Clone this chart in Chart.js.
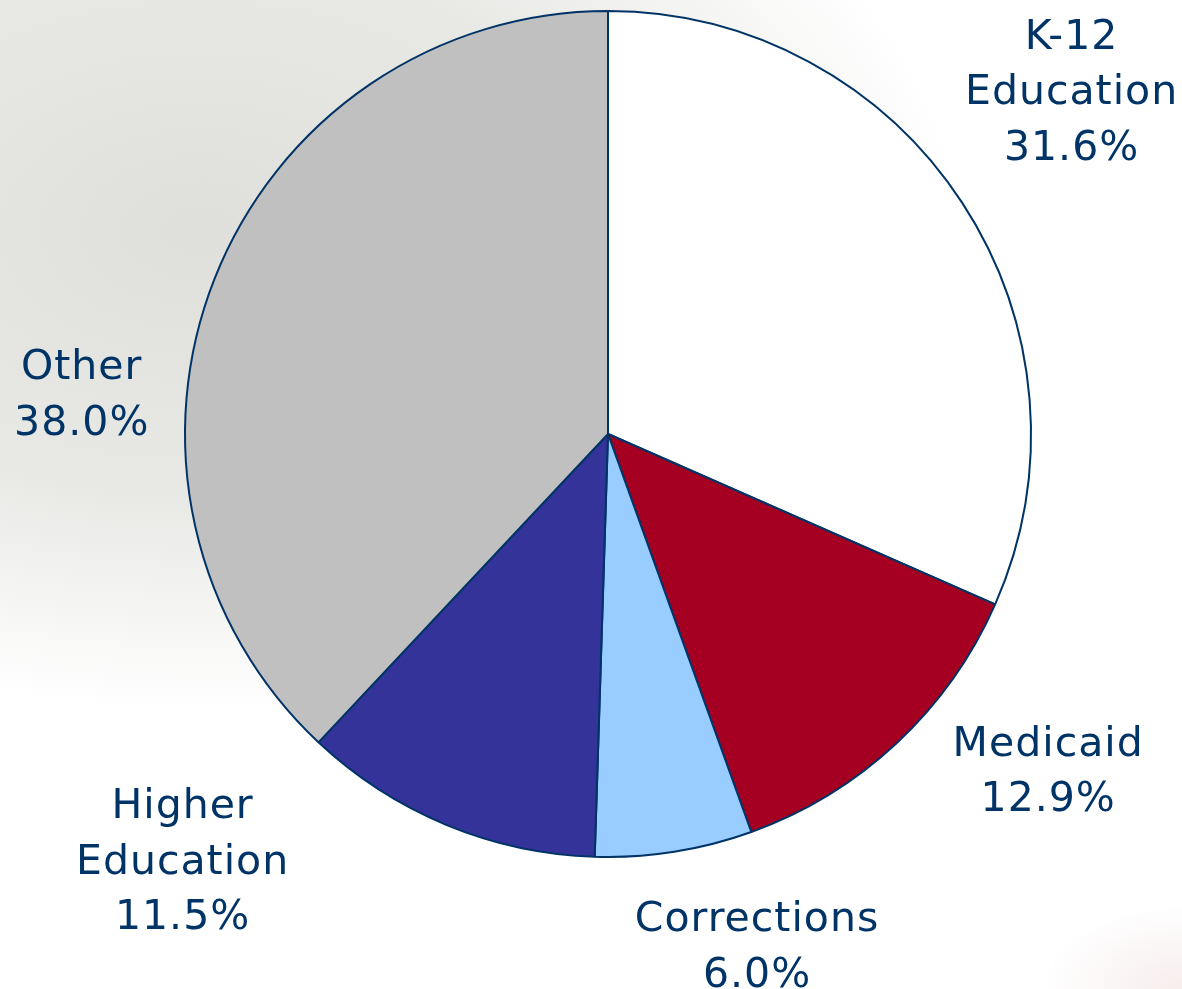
<!DOCTYPE html>
<html>
<head>
<meta charset="utf-8">
<script src="https://cdn.jsdelivr.net/npm/chart.js@4/dist/chart.umd.min.js"></script>
<style>
  html, body { margin: 0; padding: 0; }
  body {
    width: 1182px; height: 989px; overflow: hidden;
    background:
      radial-gradient(ellipse 200px 120px at 1182px 989px, rgba(200,130,130,0.15), rgba(255,255,255,0) 70%),
      radial-gradient(ellipse 760px 480px at 200px 230px, #dfdfdc 0%, #e8e8e5 55%, rgba(255,255,255,0) 100%),
      #ffffff;
  }
  #wrap { position: relative; width: 1182px; height: 989px; }
</style>
</head>
<body>
<div id="wrap"><canvas id="budgetPie" width="1182" height="989"></canvas></div>
<script>
// slice data, clockwise from 12 o'clock
const categories = ['K-12\nEducation', 'Medicaid', 'Corrections', 'Higher\nEducation', 'Other'];
const shares = [31.6, 12.9, 6.0, 11.5, 38.0];
const sliceColors = ['#FFFFFF', '#A50021', '#99CCFF', '#333399', '#C0C0C0'];

// label nudges from a point on the slice bisector at 1.3 x radius
const labelNudge = [[3, -40], [65, -63], [63, -29], [-215, -79], [-15, 165]];

const sliceLabels = {
  id: 'sliceLabels',
  afterDatasetsDraw(chart) {
    const ctx = chart.ctx;
    const arcs = chart.getDatasetMeta(0).data;
    ctx.save();
    ctx.fillStyle = '#003366';
    ctx.font = '41px "DejaVu Sans", Verdana, sans-serif';
    ctx.letterSpacing = '1px';
    ctx.textAlign = 'center';
    ctx.textBaseline = 'middle';
    arcs.forEach((arc, i) => {
      const mid = (arc.startAngle + arc.endAngle) / 2;
      const x = arc.x + Math.cos(mid) * arc.outerRadius * 1.3 + labelNudge[i][0];
      const y = arc.y + Math.sin(mid) * arc.outerRadius * 1.3 + labelNudge[i][1];
      const lines = categories[i].split('\n').concat(shares[i].toFixed(1) + '%');
      const lh = 55.5;
      lines.forEach((line, j) => {
        ctx.fillText(line, x, y + (j - (lines.length - 1) / 2) * lh);
      });
    });
    ctx.restore();
  }
};

new Chart(document.getElementById('budgetPie'), {
  type: 'pie',
  data: {
    labels: categories.map(c => c.replace('\n', ' ')),
    datasets: [{
      data: shares,
      backgroundColor: sliceColors,
      borderColor: '#003366',
      borderWidth: 2,
      hoverOffset: 0
    }]
  },
  options: {
    responsive: false,
    animation: false,
    layout: { padding: { left: 184, right: 150, top: 10, bottom: 131 } },
    plugins: {
      legend: { display: false },
      tooltip: { enabled: false }
    }
  },
  plugins: [sliceLabels]
});
</script>
</body>
</html>
